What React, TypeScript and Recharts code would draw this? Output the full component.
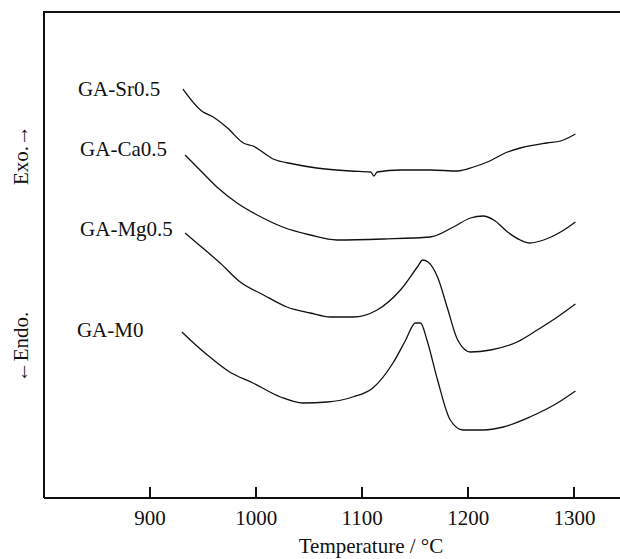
import React from 'react'
import { Label, Line, LineChart, XAxis, YAxis } from 'recharts'

// temperature (°C) and DTA signal (arbitrary units)
const srTemp = [931, 950, 958, 973, 988, 997, 1016, 1035, 1057, 1089, 1108, 1111, 1114, 1136, 1164, 1190, 1205, 1218, 1237, 1249, 1274, 1287, 1301]
const srSignal = [409, 386, 382, 370, 355, 352, 339, 334, 330, 327, 326, 322, 326, 328, 328, 327, 331, 336, 346, 350, 355, 357, 364]

const caTemp = [933, 947, 963, 982, 1001, 1025, 1051, 1076, 1120, 1164, 1186, 1202, 1214, 1224, 1237, 1249, 1258, 1271, 1287, 1301]
const caSignal = [343, 328, 311, 295, 283, 271, 263, 258, 259, 261, 271, 280, 282, 278, 266, 258, 255, 258, 266, 276]

const mgTemp = [933, 944, 966, 985, 1007, 1029, 1051, 1070, 1091, 1114, 1136, 1152, 1157, 1162, 1171, 1180, 1190, 1202, 1221, 1246, 1265, 1284, 1301]
const mgSignal = [265, 255, 235, 216, 203, 191, 185, 181, 181, 188, 208, 231, 238, 236, 221, 191, 158, 146, 148, 156, 168, 181, 194]

const m0Temp = [930, 941, 954, 975, 997, 1023, 1044, 1067, 1091, 1110, 1129, 1141, 1150, 1155, 1161, 1171, 1183, 1195, 1214, 1233, 1258, 1284, 1301]
const m0Signal = [166, 155, 143, 126, 115, 101, 95, 96, 101, 110, 135, 158, 175, 175, 158, 118, 78, 68, 68, 71, 81, 95, 107]

const xTicks = [900, 1000, 1100, 1200, 1300]

const seriesNames = ['GA-Sr0.5', 'GA-Ca0.5', 'GA-Mg0.5', 'GA-M0']
const labelShift = [0, -6, -4, -2]

const W = 620
const H = 559
const Y_AXIS_W = 44
const X_AXIS_H = 61
const TOP = 12
const X_MIN = 800
const X_MAX = 1343
const Y_MAX = 486
const TICK_LEN = 11

const FONT = '"Liberation Serif", "Times New Roman", serif'

function zip(temps: number[], values: number[]) {
  return temps.map((t, i) => ({ t, v: values[i] }))
}

const series = [
  zip(srTemp, srSignal),
  zip(caTemp, caSignal),
  zip(mgTemp, mgSignal),
  zip(m0Temp, m0Signal),
]

// same linear mapping the x axis uses, for the frame overlay
const plotBottom = H - X_AXIS_H
const xPx = (t: number) => Y_AXIS_W + ((t - X_MIN) / (X_MAX - X_MIN)) * (W - Y_AXIS_W)

function nameLabel(name: string, shift: number) {
  return (props: any) => {
    if (props.index !== 0) return null
    return (
      <text
        x={props.x - 105}
        y={props.y + shift}
        dominantBaseline="central"
        textAnchor="start"
        fontFamily={FONT}
        fontSize={21}
        fill="#111"
      >
        {name}
      </text>
    )
  }
}

function TickText(props: any) {
  return (
    <text x={props.x} y={props.y} dy="0.71em" textAnchor="middle" fontFamily={FONT} fontSize={21} fill="#111">
      {props.payload.value}
    </text>
  )
}

export default function App() {
  return (
    <div style={{ position: 'fixed', left: 0, top: 0, width: W, height: H, background: '#fff' }}>
      <LineChart width={W} height={H} margin={{ top: TOP, right: 0, left: 0, bottom: 0 }}>
        <XAxis
          type="number"
          dataKey="t"
          domain={[X_MIN, X_MAX]}
          ticks={xTicks}
          height={X_AXIS_H}
          axisLine={{ stroke: '#111', strokeWidth: 2 }}
          tickLine={false}
          tickSize={0}
          tickMargin={12}
          tick={<TickText />}
        >
          <Label
            content={(p: any) => {
              const vb = p.viewBox
              return (
                <text
                  x={vb.x + vb.width / 2 + 39}
                  y={vb.y + 55}
                  textAnchor="middle"
                  fontFamily={FONT}
                  fontSize={21}
                  fill="#111"
                >
                  Temperature / °C
                </text>
              )
            }}
          />
        </XAxis>
        <YAxis
          type="number"
          domain={[0, Y_MAX]}
          width={Y_AXIS_W}
          tick={false}
          tickLine={false}
          axisLine={{ stroke: '#111', strokeWidth: 2 }}
        >
          <Label
            content={(p: any) => {
              const vb = p.viewBox
              return (
                <g>
                  <text
                    transform={`translate(21, ${vb.y + 143}) rotate(-90)`}
                    textAnchor="middle"
                    dominantBaseline="central"
                    fontFamily={FONT}
                    fontSize={21}
                    fill="#111"
                  >
                    Exo.→
                  </text>
                  <text
                    transform={`translate(21, ${vb.y + 335}) rotate(-90)`}
                    textAnchor="middle"
                    dominantBaseline="central"
                    fontFamily={FONT}
                    fontSize={21}
                    fill="#111"
                  >
                    ←Endo.
                  </text>
                </g>
              )
            }}
          />
        </YAxis>
        {series.map((data, i) => (
          <Line
            key={seriesNames[i]}
            data={data}
            dataKey="v"
            type="monotone"
            stroke="#111"
            strokeWidth={1.3}
            dot={false}
            label={nameLabel(seriesNames[i], labelShift[i])}
            isAnimationActive={false}
          />
        ))}
      </LineChart>
      {/* top edge of the frame */}
      <div
        style={{
          position: 'absolute',
          left: Y_AXIS_W - 1,
          top: TOP - 1,
          width: W - Y_AXIS_W + 1,
          height: 2,
          background: '#111',
        }}
      />
      {/* inward tick marks on the x axis */}
      {xTicks.map((t) => (
        <div
          key={t}
          style={{
            position: 'absolute',
            left: xPx(t) - 1,
            top: plotBottom - TICK_LEN,
            width: 2,
            height: TICK_LEN,
            background: '#111',
          }}
        />
      ))}
    </div>
  )
}
